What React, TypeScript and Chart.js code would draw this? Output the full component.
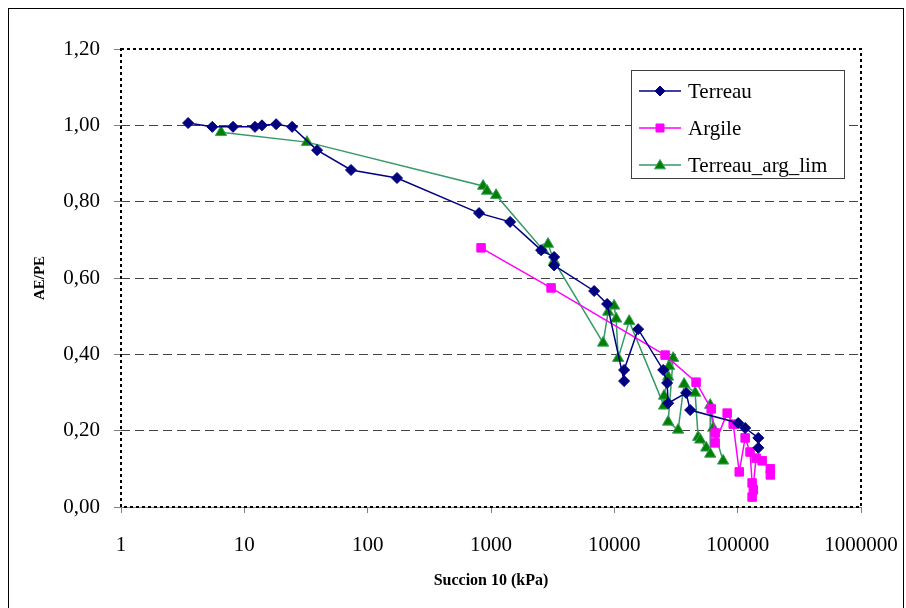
import React, { useEffect, useRef } from "react";
import { Chart, registerables } from "chart.js";

Chart.register(...registerables);

// ---- data ----
const xTicks = [1, 10, 100, 1000, 10000, 100000, 1000000];
const yTicks = [0, 0.2, 0.4, 0.6, 0.8, 1.0, 1.2];
const seriesNames = ["Terreau", "Argile", "Terreau_arg_lim"];

const terreauX = [3.5, 5.5, 8.1, 12.2, 13.9, 18.1, 24.4, 38.9, 73.3, 173, 800, 1429, 2548, 3250, 3250, 6860, 8740, 12000, 12000, 15600, 24900, 26800, 27300, 38200, 41200, 101000, 115000, 147000, 147000];
const terreauY = [1.006, 0.996, 0.996, 0.996, 1.0, 1.003, 0.996, 0.935, 0.883, 0.862, 0.77, 0.747, 0.673, 0.655, 0.633, 0.566, 0.532, 0.33, 0.359, 0.466, 0.359, 0.325, 0.272, 0.299, 0.254, 0.22, 0.207, 0.181, 0.155];

const argileX = [831, 3070, 25800, 46000, 61000, 65700, 65700, 82200, 92000, 103000, 115000, 126000, 131000, 134000, 131000, 141000, 158000, 184000, 184000];
const argileY = [0.679, 0.574, 0.398, 0.327, 0.257, 0.194, 0.168, 0.246, 0.217, 0.092, 0.181, 0.144, 0.063, 0.045, 0.026, 0.128, 0.121, 0.1, 0.084];

const argLimX = [6.47, 32.2, 863, 929, 1100, 2650, 2900, 3250, 8110, 8910, 9960, 10350, 10740, 13200, 25300, 25300, 27300, 27800, 30000, 27300, 32900, 36800, 45200, 47800, 49700, 55600, 59900, 59900, 63300, 76200];
const argLimY = [0.982, 0.956, 0.841, 0.828, 0.817, 0.673, 0.689, 0.644, 0.43, 0.511, 0.527, 0.493, 0.39, 0.487, 0.265, 0.291, 0.341, 0.369, 0.39, 0.223, 0.202, 0.322, 0.299, 0.183, 0.176, 0.155, 0.139, 0.267, 0.207, 0.121];

const SERIF = '"Liberation Serif", "Times New Roman", serif';

function drawMarker(ctx: CanvasRenderingContext2D, style: string, x: number, y: number, fill: string, stroke: string) {
  ctx.save();
  ctx.fillStyle = fill;
  ctx.strokeStyle = stroke;
  ctx.lineWidth = 1;
  ctx.setLineDash([]);
  ctx.beginPath();
  if (style === "rectRot") {
    const r = 5;
    ctx.moveTo(x, y - r);
    ctx.lineTo(x + r, y);
    ctx.lineTo(x, y + r);
    ctx.lineTo(x - r, y);
    ctx.closePath();
  } else if (style === "rect") {
    const s = 4;
    ctx.rect(x - s, y - s, 2 * s, 2 * s);
  } else {
    const r = 5.5;
    ctx.moveTo(x, y - r);
    ctx.lineTo(x + r, y + r * 0.7);
    ctx.lineTo(x - r, y + r * 0.7);
    ctx.closePath();
  }
  ctx.fill();
  ctx.stroke();
  ctx.restore();
}

export default function App() {
  const ref = useRef<HTMLCanvasElement>(null);

  useEffect(() => {
    const canvas = ref.current;
    if (!canvas) return;
    const mk = (xs: number[], ys: number[]) => xs.map((x, i) => ({ x, y: ys[i] }));

    const frame = {
      id: "frame",
      beforeDraw(chart: any) {
        const ctx = chart.ctx as CanvasRenderingContext2D;
        ctx.save();
        ctx.fillStyle = "#fff";
        ctx.fillRect(0, 0, chart.width, chart.height);
        ctx.strokeStyle = "#000";
        ctx.lineWidth = 1;
        ctx.strokeRect(8.5, 8.5, 895, 700);
        ctx.restore();
      },
    };

    const plotBorder = {
      id: "plotBorder",
      beforeDatasetsDraw(chart: any) {
        const { left, right, top, bottom } = chart.chartArea;
        const ctx = chart.ctx as CanvasRenderingContext2D;
        ctx.save();
        ctx.setLineDash([3, 3]);
        ctx.lineWidth = 2;
        ctx.strokeStyle = "#000";
        ctx.strokeRect(left, top, right - left, bottom - top);
        ctx.restore();
      },
    };

    const legendPlugin = {
      id: "customLegend",
      afterDraw(chart: any) {
        const ctx = chart.ctx as CanvasRenderingContext2D;
        const bx = 631, by = 70, bw = 213, bh = 108;
        ctx.save();
        ctx.fillStyle = "#fff";
        ctx.fillRect(bx, by, bw, bh);
        ctx.strokeStyle = "#404040";
        ctx.lineWidth = 1;
        ctx.setLineDash([]);
        ctx.strokeRect(bx + 0.5, by + 0.5, bw, bh);
        chart.data.datasets.forEach((ds: any, i: number) => {
          const y = 91 + i * 37;
          ctx.strokeStyle = ds.borderColor;
          ctx.lineWidth = 1.5;
          ctx.beginPath();
          ctx.moveTo(639, y);
          ctx.lineTo(681, y);
          ctx.stroke();
          drawMarker(ctx, ds.pointStyle, 660, y, ds.pointBackgroundColor, ds.pointBorderColor);
          ctx.fillStyle = "#000";
          ctx.font = `21px ${SERIF}`;
          ctx.textBaseline = "middle";
          ctx.textAlign = "left";
          ctx.fillText(seriesNames[i], 688, y + 1);
        });
        ctx.restore();
      },
    };

    const chart = new Chart(canvas, {
      type: "scatter",
      data: {
        datasets: [
          {
            label: seriesNames[0],
            data: mk(terreauX, terreauY),
            showLine: true,
            borderColor: "#000080",
            backgroundColor: "#000080",
            borderWidth: 1.5,
            pointStyle: "rectRot",
            pointRadius: 5.5,
            pointBackgroundColor: "#000080",
            pointBorderColor: "#000080",
            pointBorderWidth: 1,
          },
          {
            label: seriesNames[1],
            data: mk(argileX, argileY),
            showLine: true,
            borderColor: "#FF00FF",
            backgroundColor: "#FF00FF",
            borderWidth: 1.5,
            pointStyle: "rect",
            pointRadius: 6,
            pointBackgroundColor: "#FF00FF",
            pointBorderColor: "#FF00FF",
            pointBorderWidth: 1,
          },
          {
            label: seriesNames[2],
            data: mk(argLimX, argLimY),
            showLine: true,
            borderColor: "#339966",
            backgroundColor: "#008000",
            borderWidth: 1.5,
            pointStyle: "triangle",
            pointRadius: 6.5,
            pointBackgroundColor: "#008000",
            pointBorderColor: "#3CA060",
            pointBorderWidth: 1,
          },
        ] as any,
      },
      options: {
        animation: false,
        responsive: false,
        maintainAspectRatio: false,
        layout: { padding: { left: 0, right: 45, top: 49, bottom: 0 } },
        plugins: { legend: { display: false }, tooltip: { enabled: false } },
        elements: { line: { tension: 0 } },
        scales: {
          x: {
            type: "logarithmic",
            min: 1,
            max: 1000000,
            afterBuildTicks: (s: any) => {
              s.ticks = xTicks.map((v) => ({ value: v }));
            },
            afterFit: (s: any) => {
              s.height = 101;
              s.paddingLeft = 0;
              s.paddingRight = 0;
            },
            ticks: {
              autoSkip: false,
              maxRotation: 0,
              padding: 20,
              color: "#000",
              font: { family: SERIF, size: 21 },
              callback: (v: any) => String(v),
            },
            grid: { drawOnChartArea: false, drawTicks: true, tickLength: 6, tickColor: "#808080" },
            border: { display: true, color: "#808080", width: 1 },
            title: {
              display: true,
              text: "Succion 10 (kPa)",
              color: "#000",
              font: { family: SERIF, size: 16, weight: "bold" },
              padding: { top: 0, bottom: 18 },
            },
          },
          y: {
            min: 0,
            max: 1.2,
            afterBuildTicks: (s: any) => {
              s.ticks = yTicks.map((v) => ({ value: v }));
            },
            afterFit: (s: any) => {
              s.width = 121;
              s.paddingTop = 0;
              s.paddingBottom = 0;
            },
            ticks: {
              padding: 14,
              color: "#000",
              font: { family: SERIF, size: 21 },
              callback: (v: any) => Number(v).toFixed(2).replace(".", ","),
            },
            grid: {
              color: (c: any) =>
                c.tick && (c.tick.value <= 0.001 || c.tick.value >= 1.19) ? "rgba(0,0,0,0)" : "#444",
              lineWidth: 1,
              tickLength: 7,
              tickColor: "#808080",
              tickBorderDash: [],
            },
            border: { display: false, dash: [9, 5] },
            title: {
              display: true,
              text: "AE/PE",
              color: "#000",
              font: { family: SERIF, size: 15, weight: "bold" },
              padding: { top: 31, bottom: 0 },
            },
          },
        },
      } as any,
      plugins: [frame, plotBorder, legendPlugin],
    });

    return () => chart.destroy();
  }, []);

  return (
    <div style={{ position: "fixed", left: 0, top: 0, width: 906, height: 608, background: "#fff" }}>
      <canvas ref={ref} width={906} height={608} style={{ display: "block", width: 906, height: 608 }} />
    </div>
  );
}
